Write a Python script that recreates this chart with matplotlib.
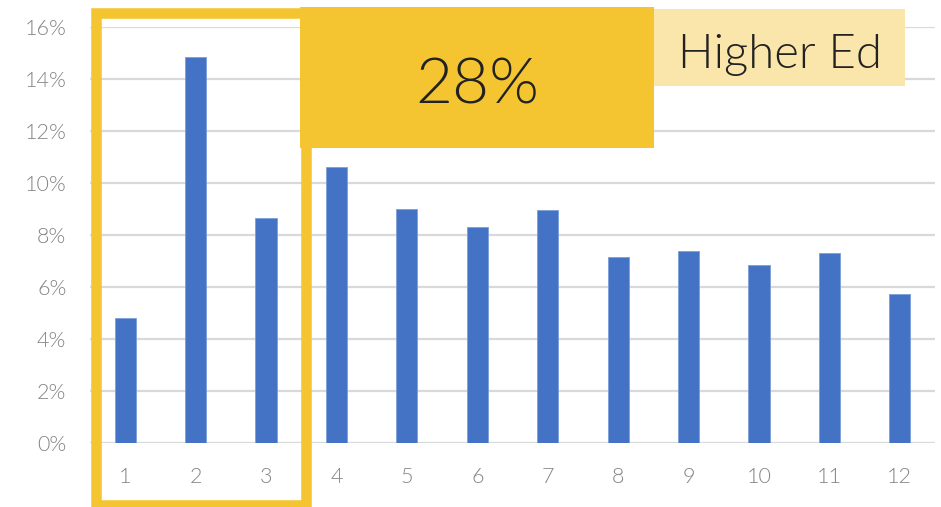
import matplotlib

matplotlib.use("Agg")
import matplotlib.pyplot as plt
from matplotlib.patches import Rectangle
from matplotlib.ticker import FuncFormatter, MultipleLocator

categories = [str(i) for i in range(1, 13)]
shares = [4.8, 14.85, 8.65, 10.6, 9.0, 8.3, 8.95, 7.15, 7.4, 6.85, 7.3, 5.75]
highlight_value = "28%"
highlight_label = "Higher Ed"

W, H = 941, 507
BLUE = "#4472C4"
GOLD = "#F4C531"
PALE = "#FAE6AA"
GRID = "#D9D9D9"
TICK = "#848484"

plt.rcParams["font.family"] = ["Lato", "DejaVu Sans"]


def fig_box(x, y, w, h):
    """Pixel box (top-left origin) -> figure fraction (left, bottom, width, height)."""
    return x / W, 1 - (y + h) / H, w / W, h / H


fig = plt.figure(figsize=(W / 100, H / 100), dpi=100)
ax = fig.add_axes(fig_box(90, 27, 845, 416))

xs = range(len(categories))
ax.bar(xs, shares, width=0.3, color=BLUE, edgecolor="#7C9FD9", linewidth=0.6, zorder=3)
ax.set_xlim(-0.5, len(categories) - 0.5)
ax.set_ylim(0, 16)
ax.set_xticks(list(xs))
ax.set_xticklabels(categories)
ax.yaxis.set_major_locator(MultipleLocator(2))
ax.yaxis.set_major_formatter(FuncFormatter(lambda v, _: f"{v:.0f}%"))
ax.grid(axis="y", color=GRID, linewidth=1.6, zorder=0)
ax.set_axisbelow(True)
for side in ("top", "right", "left", "bottom"):
    ax.spines[side].set_visible(False)
ax.tick_params(axis="both", length=0, labelsize=15.5, colors=TICK)
ax.tick_params(axis="x", pad=17)
ax.tick_params(axis="y", pad=17)
for lbl in ax.get_xticklabels() + ax.get_yticklabels():
    lbl.set_fontweight(300)

# highlight frame around the first three bars
l, b, w, h = fig_box(96, 12.5, 210, 492)
fig.add_artist(Rectangle((l, b), w, h, transform=fig.transFigure, fill=False,
                         edgecolor=GOLD, linewidth=7.6, zorder=5))

# callout boxes
l, b, w, h = fig_box(300, 7, 354, 141)
fig.add_artist(Rectangle((l, b), w, h, transform=fig.transFigure, facecolor=GOLD,
                         edgecolor="none", zorder=6))
fig.text(l + w / 2, 1 - 104 / H, highlight_value, ha="center", va="baseline",
         fontsize=46, fontweight=300, color="#222222", zorder=7)

l, b, w, h = fig_box(654, 9, 251, 77)
fig.add_artist(Rectangle((l, b), w, h, transform=fig.transFigure, facecolor=PALE,
                         edgecolor="none", zorder=6))
fig.text(l + w / 2, 1 - 68 / H, highlight_label, ha="center", va="baseline",
         fontsize=34, fontweight=300, color="#222222", zorder=7)

fig.savefig("out.png", dpi=100)
